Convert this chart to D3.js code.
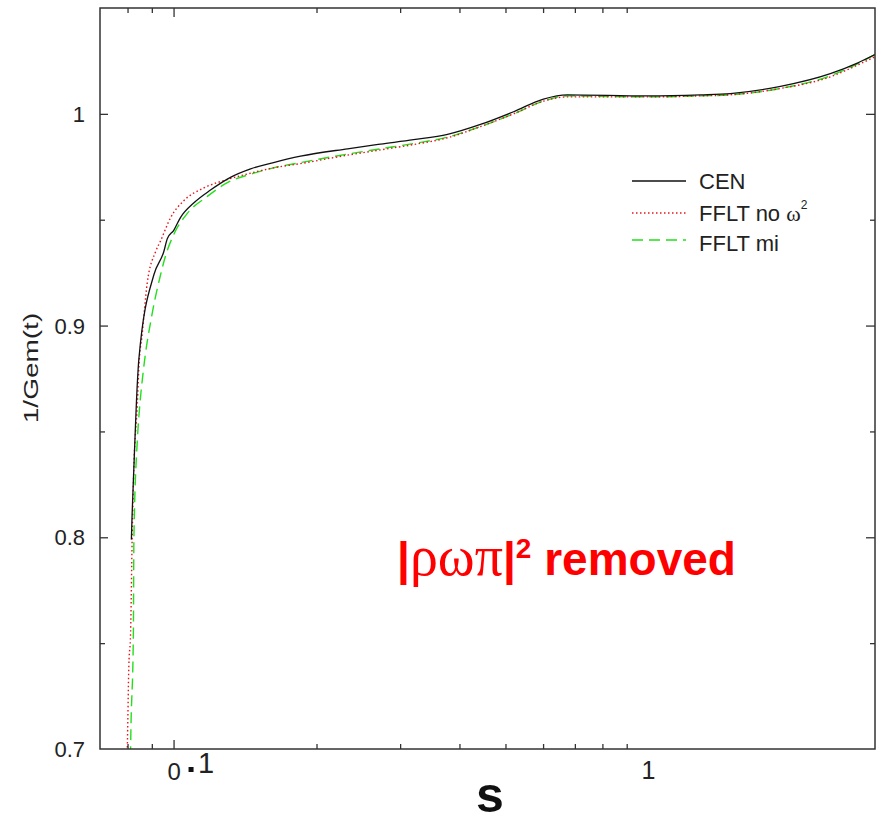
<!DOCTYPE html>
<html>
<head>
<meta charset="utf-8">
<script src="https://cdn.jsdelivr.net/npm/d3@7"></script>
<style>
  body { margin: 0; background: #fff; }
  svg { display: block; font-family: Arial, "Liberation Sans", sans-serif; }
</style>
</head>
<body>
<svg id="chart" width="882" height="822"></svg>
<script>
// values: s (x) and 1/Gem(t) (y)
const cenS = [0.0815, 0.0818, 0.0825, 0.0839, 0.0845, 0.0909, 0.0954, 0.0970, 0.1001, 0.1034, 0.1104, 0.1196, 0.1318, 0.1453, 0.1624, 0.1851, 0.2325, 0.2728, 0.3201, 0.3775, 0.4429, 0.520, 0.601, 0.675, 0.995, 1.287, 1.488, 1.897, 2.416, 2.754, 3.0];
const cenV = [0.799, 0.811, 0.833, 0.873, 0.884, 0.924, 0.935, 0.941, 0.945, 0.951, 0.958, 0.964, 0.970, 0.974, 0.977, 0.980, 0.9835, 0.9857, 0.9878, 0.9903, 0.995, 1.001, 1.007, 1.009, 1.0085, 1.009, 1.0096, 1.013, 1.019, 1.024, 1.028];

const noOmegaS = [0.0794, 0.0799, 0.0805, 0.0812, 0.0818, 0.0825, 0.0839, 0.0845, 0.0859, 0.0880, 0.0917, 0.0939, 0.0986, 0.1051, 0.1158, 0.1298, 0.1453, 0.1624, 0.1851, 0.2325, 0.2728, 0.3201, 0.3775, 0.4429, 0.520, 0.601, 0.675, 0.995, 1.287, 1.488, 1.897, 2.416, 2.754, 3.0];
const noOmegaV = [0.680, 0.700, 0.739, 0.755, 0.799, 0.833, 0.863, 0.880, 0.896, 0.920, 0.935, 0.940, 0.951, 0.959, 0.965, 0.969, 0.972, 0.9745, 0.9765, 0.9805, 0.9830, 0.9855, 0.9887, 0.994, 1.000, 1.006, 1.008, 1.008, 1.0085, 1.009, 1.012, 1.0175, 1.023, 1.027];

const miS = [0.0810, 0.0812, 0.0823, 0.0825, 0.0839, 0.0848, 0.0863, 0.0902, 0.0939, 0.0962, 0.1001, 0.1069, 0.1178, 0.1298, 0.1453, 0.1624, 0.1851, 0.2325, 0.2728, 0.3201, 0.3775, 0.4429, 0.520, 0.601, 0.675, 0.995, 1.287, 1.488, 1.897, 2.416, 2.754, 3.0];
const miV = [0.680, 0.700, 0.755, 0.799, 0.846, 0.861, 0.878, 0.906, 0.924, 0.933, 0.943, 0.953, 0.961, 0.9675, 0.9715, 0.9745, 0.977, 0.981, 0.9835, 0.986, 0.989, 0.994, 1.000, 1.006, 1.0085, 1.008, 1.0085, 1.009, 1.012, 1.018, 1.0236, 1.028];

const xMajorTicks = [0.1];
const xMinorTicks = [0.08, 0.09, 0.2, 0.3, 0.4, 0.5, 0.6, 0.7, 0.8, 0.9];
const yMajorTicks = [0.8, 0.9, 1.0];
const yMinorTicks = [0.75, 0.85, 0.95];
const yLabelValues = [0.7, 0.8, 0.9, 1.0];
const yTickLabels = ["0.7", "0.8", "0.9", "1"];
const seriesNames = ["CEN", "FFLT no ω", "FFLT mi"];

var svg = d3.select('#chart');
var pLeft = 100, pRight = 875, pTop = 8, pBottom = 749;

var x = d3.scaleLog().domain([0.07, 3]).range([pLeft, pRight]);
var y = d3.scaleLinear().domain([0.7, 1.05]).range([pBottom, pTop]);

var series = [
  {name: seriesNames[0], s: cenS, v: cenV, color: '#111', dash: null, width: 1.3},
  {name: seriesNames[1], s: noOmegaS, v: noOmegaV, color: '#e8141b', dash: '1.5,2.5', width: 1.4},
  {name: seriesNames[2], s: miS, v: miV, color: '#22e01c', dash: '11,6', width: 1.4}
];

svg.append('clipPath').attr('id', 'plotclip')
  .append('rect')
  .attr('x', pLeft).attr('y', pTop)
  .attr('width', pRight - pLeft).attr('height', pBottom - pTop);

var line = d3.line()
  .x(d => x(d[0]))
  .y(d => y(d[1]))
  .curve(d3.curveMonotoneX);

// draw green, red then black so black sits on top
[2, 1, 0].forEach(function (i) {
  var sr = series[i];
  var pts = sr.s.map((s, k) => [s, sr.v[k]]);
  svg.append('path')
    .attr('clip-path', 'url(#plotclip)')
    .attr('d', line(pts))
    .attr('fill', 'none')
    .attr('stroke', sr.color)
    .attr('stroke-width', sr.width)
    .attr('stroke-dasharray', sr.dash);
});

// axes, ticks pointing inward on all four sides
function tickAxis(axisFn, scale, vals, size, tx, ty) {
  var g = svg.append('g')
    .attr('transform', 'translate(' + tx + ',' + ty + ')')
    .call(axisFn(scale).tickValues(vals).tickSizeInner(size).tickSizeOuter(0).tickFormat(''));
  g.select('.domain').remove();
  g.selectAll('line').attr('stroke', '#333').attr('stroke-width', 1.3);
  return g;
}
tickAxis(d3.axisBottom, x, xMajorTicks, -9, 0, pBottom);
tickAxis(d3.axisBottom, x, xMinorTicks, -5, 0, pBottom);
tickAxis(d3.axisTop, x, xMajorTicks, -9, 0, pTop);
tickAxis(d3.axisTop, x, xMinorTicks, -5, 0, pTop);
tickAxis(d3.axisLeft, y, yMajorTicks, -8, pLeft, 0);
tickAxis(d3.axisLeft, y, yMinorTicks, -5, pLeft, 0);
tickAxis(d3.axisRight, y, yMajorTicks, -9, pRight, 0);
tickAxis(d3.axisRight, y, yMinorTicks, -5, pRight, 0);

svg.append('rect')
  .attr('x', pLeft).attr('y', pTop)
  .attr('width', pRight - pLeft).attr('height', pBottom - pTop)
  .attr('fill', 'none').attr('stroke', '#333').attr('stroke-width', 1.5);

// y tick labels
svg.selectAll('.ylab')
  .data(yLabelValues)
  .enter().append('text')
  .attr('class', 'ylab')
  .attr('x', 85)
  .attr('y', d => y(d) + 8)
  .attr('text-anchor', 'end')
  .attr('font-size', 22)
  .attr('fill', '#222')
  .text((d, i) => yTickLabels[i]);

// x tick labels
var lab01 = svg.append('text')
  .attr('x', x(0.1) - 6).attr('y', 780)
  .attr('fill', '#222');
lab01.append('tspan').attr('font-size', 24).text('0');
svg.append('rect')
  .attr('x', x(0.1) + 15).attr('y', 767)
  .attr('width', 5).attr('height', 5)
  .attr('fill', '#111');
lab01.append('tspan').attr('font-size', 29).attr('dx', 17).attr('dy', -7).text('1');

svg.append('text')
  .attr('x', x(1)).attr('y', 779)
  .attr('text-anchor', 'middle')
  .attr('font-size', 25)
  .attr('fill', '#222')
  .text('1');

// axis titles
svg.append('text')
  .attr('x', 490).attr('y', 812)
  .attr('text-anchor', 'middle')
  .attr('font-size', 50).attr('font-weight', 'bold')
  .attr('fill', '#111')
  .text('s');

svg.append('text')
  .attr('transform', 'translate(38,368) rotate(-90) scale(1.4,1)')
  .attr('text-anchor', 'middle')
  .attr('font-size', 20)
  .attr('fill', '#222')
  .text('1/Gem(t)');

// legend
var legY = [181, 213, 240];
var legTextY = [189, 221, 251];
series.forEach(function (sr, i) {
  svg.append('line')
    .attr('x1', 632).attr('x2', 686)
    .attr('y1', legY[i]).attr('y2', legY[i])
    .attr('stroke', sr.color)
    .attr('stroke-width', sr.width)
    .attr('stroke-dasharray', sr.dash);
  var t = svg.append('text')
    .attr('x', 699).attr('y', legTextY[i])
    .attr('font-size', 22)
    .attr('fill', '#222');
  if (i == 1) {
    t.append('tspan').text('FFLT no ');
    t.append('tspan').attr('font-family', '"Liberation Serif", serif').text('ω');
    t.append('tspan').attr('font-size', 12).attr('dy', -12).text('2');
  } else {
    t.text(sr.name);
  }
});

// annotation
var ann = svg.append('text')
  .attr('x', 397).attr('y', 575)
  .attr('font-size', 46).attr('font-weight', 'bold')
  .attr('fill', '#f00');
ann.append('tspan').text('|');
ann.append('tspan').attr('font-family', '"Liberation Serif", serif').attr('font-weight', 'normal').attr('font-size', 56).text('ρωπ');
ann.append('tspan').text('|');
ann.append('tspan').attr('font-size', 28).attr('dy', -17).text('2');
ann.append('tspan').attr('dy', 17).text(' removed');
</script>
</body>
</html>
